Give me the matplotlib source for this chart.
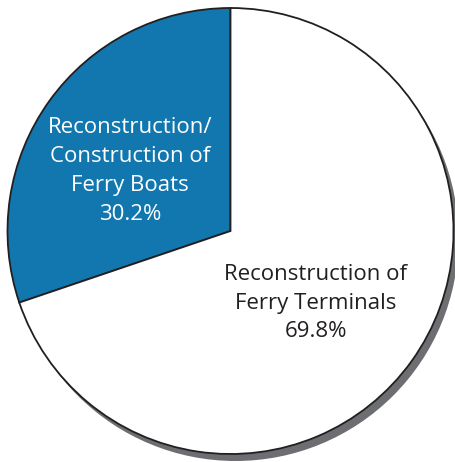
import matplotlib
matplotlib.use("Agg")
import matplotlib.pyplot as plt
from matplotlib.patches import Circle

labels = ["Reconstruction/\nConstruction of\nFerry Boats", "Reconstruction of\nFerry Terminals"]
shares = [30.2, 69.8]
colors = ["#1177ae", "#ffffff"]

fig = plt.figure(figsize=(4.56, 4.62), dpi=100)
ax = fig.add_axes([0, 0, 1, 1])

cx, cy, r = 230.5, 231.0, 223.0

# drop shadow behind the pie
ax.add_patch(Circle((cx + 5, cy - 7), r, facecolor="#6d6e71", edgecolor="none", zorder=0))

wedges, _ = ax.pie(shares, colors=colors, startangle=90, counterclock=True,
                   center=(cx, cy), radius=r, frame=True,
                   wedgeprops=dict(edgecolor="#231f20", linewidth=1.3))
for w in wedges:
    w.set_zorder(1)
ax.set_xlim(0, 456)
ax.set_ylim(0, 462)
ax.set_aspect("equal")
ax.axis("off")

font = dict(family=["Open Sans", "DejaVu Sans"], fontsize=16, ha="center", va="center",
            linespacing=1.48, zorder=3)
ax.text(130, 462 - 171, f"{labels[0]}\n{shares[0]:.1f}%", color="white", **font)
ax.text(316, 462 - 303, f"{labels[1]}\n{shares[1]:.1f}%", color="#231f20", **font)

fig.savefig("out.png", dpi=100)
